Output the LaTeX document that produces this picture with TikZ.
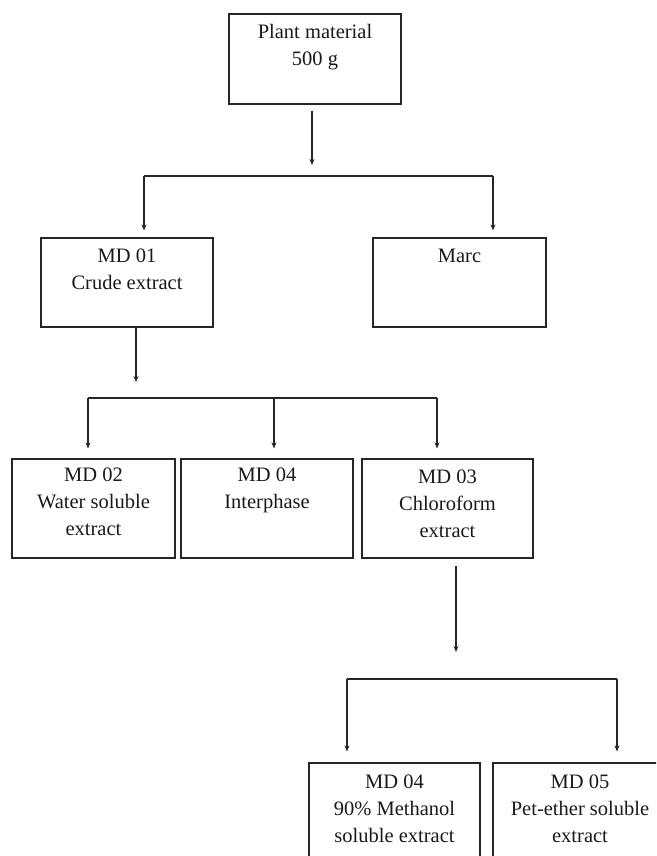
\documentclass[tikz,border=0pt]{standalone}
\usepackage{fontspec}
\setmainfont{Liberation Serif}
\usetikzlibrary{arrows.meta}
\tikzset{
  boxnode/.style={draw=black!85, line width=1.1pt, rectangle, inner sep=0pt},
  lbl/.style={anchor=north, inner sep=0pt, align=center, font=\fontsize{20.5}{27}\selectfont, text=black!90},
  conn/.style={draw=black!85, line width=1.1pt},
  arr/.style={conn, -{Stealth[length=6pt,width=5pt]}}
}
\begin{document}
\begin{tikzpicture}[x=1pt,y=-1pt]
\useasboundingbox (0,0) rectangle (656,856);
\clip (0,0) rectangle (656,856);
% boxes
\node[boxnode, minimum width=172, minimum height=90] (plant) at (315,59) {};
\node[boxnode, minimum width=172, minimum height=89] (md01) at (127,282.5) {};
\node[boxnode, minimum width=173, minimum height=89] (marc) at (459.5,282.5) {};
\node[boxnode, minimum width=163, minimum height=99] (md02) at (93.5,508.5) {};
\node[boxnode, minimum width=172, minimum height=99] (md04i) at (267,508.5) {};
\node[boxnode, minimum width=171, minimum height=99] (md03) at (447.5,508.5) {};
\node[boxnode, minimum width=171, minimum height=98] (md04m) at (394.5,812) {};
\node[boxnode, minimum width=174, minimum height=98] (md05) at (580,812) {};
% labels
\node[lbl] (plantT) at ([yshift=-11pt]plant.north) {Plant material\\500 g};
\node[lbl] (md01T) at ([yshift=-11pt]md01.north) {MD 01\\Crude extract};
\node[lbl] (marcT) at ([yshift=-11pt]marc.north) {Marc};
\node[lbl] (md02T) at ([yshift=-9pt]md02.north) {MD 02\\Water soluble\\extract};
\node[lbl] (md04iT) at ([yshift=-9pt]md04i.north) {MD 04\\Interphase};
\node[lbl] (md03T) at ([yshift=-11pt]md03.north) {MD 03\\Chloroform\\extract};
\node[lbl] (md04mT) at ([yshift=-12pt]md04m.north) {MD 04\\90\% Methanol\\soluble extract};
\node[lbl] (md05T) at ([yshift=-12pt]md05.north) {MD 05\\Pet-ether soluble\\extract};
% junction coordinates
\coordinate (a1e) at (312,165);
\coordinate (b1l) at (144,176);
\coordinate (b1r) at (493,176);
\coordinate (a2e) at (136,382);
\coordinate (b2l) at (88,398);
\coordinate (b2m) at (274,398);
\coordinate (b2r) at (437,398);
\coordinate (a3e) at (456,652);
\coordinate (b3l) at (347,679);
\coordinate (b3r) at (617,679);
% connectors
\draw[arr] ([xshift=-3pt,yshift=-6pt]plant.south) -- (a1e);
\draw[conn] (b1l) -- (b1r);
\draw[arr] (b1l) -- ([yshift=7pt]md01.north -| b1l);
\draw[arr] (b1r) -- ([yshift=7pt]marc.north -| b1r);
\draw[arr] (md01.south -| a2e) -- (a2e);
\draw[conn] (b2l) -- (b2r);
\draw[arr] (b2l) -- ([yshift=10pt]md02.north -| b2l);
\draw[arr] (b2m) -- ([yshift=10pt]md04i.north -| b2m);
\draw[arr] (b2r) -- ([yshift=10pt]md03.north -| b2r);
\draw[arr] ([yshift=-7pt]md03.south -| a3e) -- (a3e);
\draw[conn] (b3l) -- (b3r);
\draw[arr] (b3l) -- ([yshift=11pt]md04m.north -| b3l);
\draw[arr] (b3r) -- ([yshift=11pt]md05.north -| b3r);
\end{tikzpicture}
\end{document}
